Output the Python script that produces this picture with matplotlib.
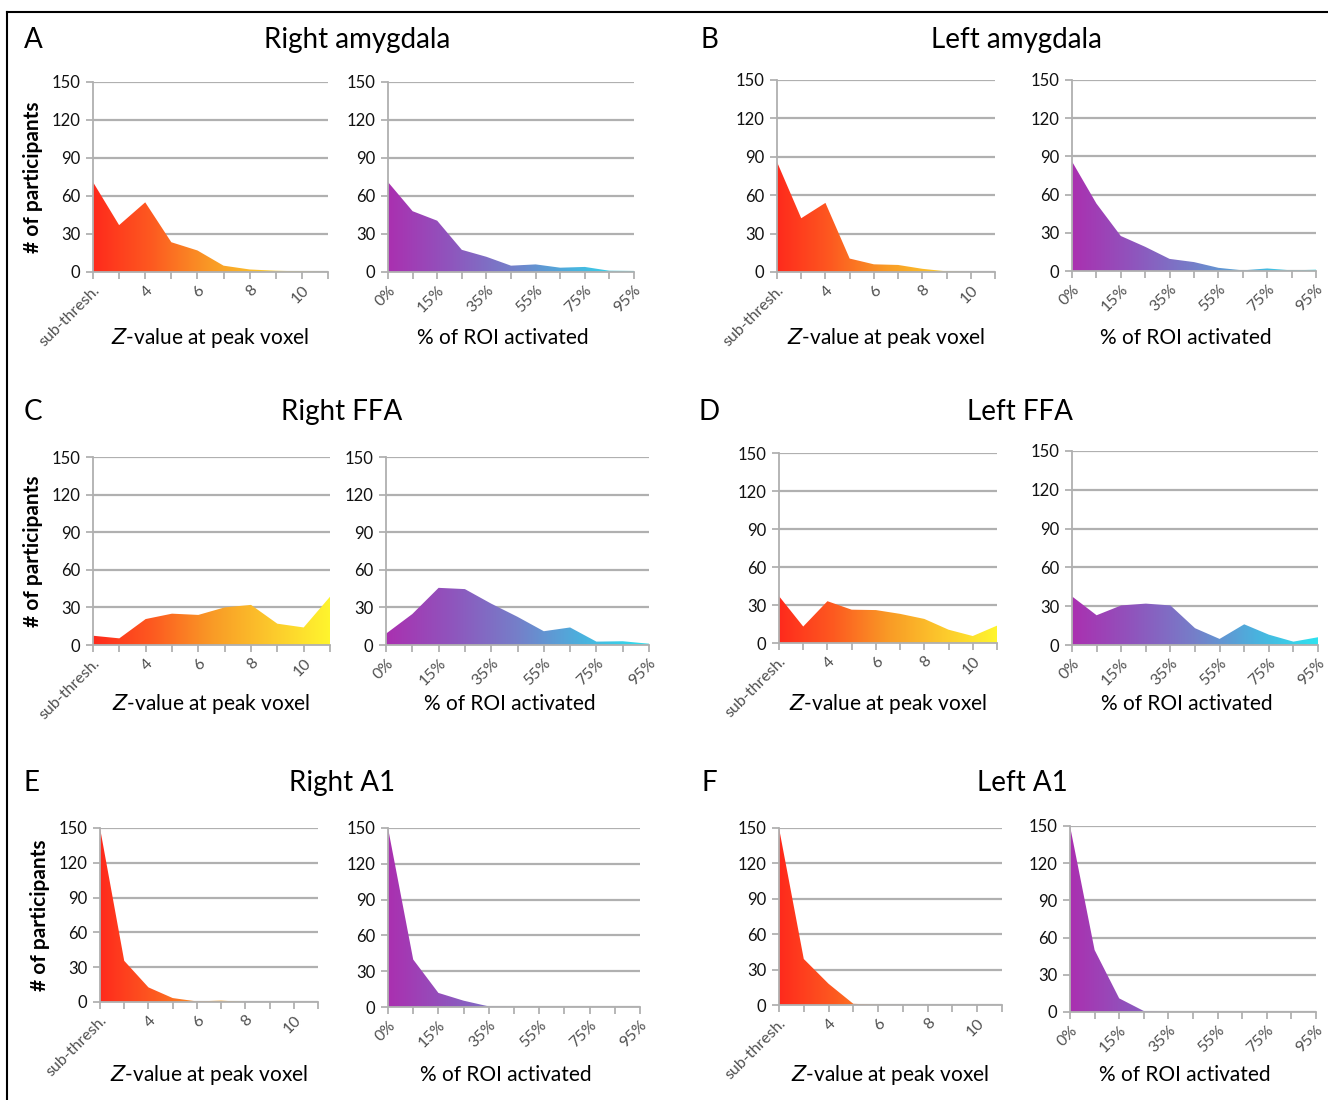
import matplotlib
matplotlib.use("Agg")
import matplotlib.pyplot as plt
from matplotlib.colors import LinearSegmentedColormap
from matplotlib.lines import Line2D
import numpy as np

plt.rcParams["font.family"] = ["Lato", "DejaVu Sans"]

# x categories
z_labels = ["sub-thresh.", "", "4", "", "6", "", "8", "", "10", ""]
pct_labels = ["0%", "", "15%", "", "35%", "", "55%", "", "75%", "", "95%"]

# participants per category
right_amygdala_z = [71, 37, 55, 23.5, 17, 5, 2, 1, 0.5, 0]
right_amygdala_pct = [71, 48, 40.5, 17.5, 12, 5, 6, 3.4, 4, 1, 0.8]
left_amygdala_z = [86, 42, 54, 10.5, 6, 5.5, 2.5, 0.5, 0, 0]
left_amygdala_pct = [86, 53, 27.5, 19, 9.5, 7, 2.5, 0.5, 2, 0.5, 1]
right_ffa_z = [7.4, 5.3, 20.7, 25, 24, 30, 32, 17, 14, 38.5]
right_ffa_pct = [9, 24.7, 45.6, 44.6, 33, 22.5, 11, 14, 2.7, 3, 1]
left_ffa_z = [37, 13, 33, 26.3, 26, 23, 19, 10.5, 5.5, 13.7]
left_ffa_pct = [37.6, 23, 30.6, 32, 30.6, 13, 4.7, 16, 8, 2.6, 6]
right_a1_z = [150, 35.5, 12.6, 3.4, 0.5, 1.2, 0, 0, 0, 0]
right_a1_pct = [150, 39.8, 11.8, 5.3, 0.5, 0, 0, 0, 0, 0, 0]
left_a1_z = [150, 39, 18, 1, 0.2, 0, 0, 0, 0, 0]
left_a1_pct = [150, 50, 11, 0.8, 0, 0, 0, 0, 0, 0, 0]

panels = [
    ("A", "Right amygdala", right_amygdala_z, right_amygdala_pct),
    ("B", "Left amygdala", left_amygdala_z, left_amygdala_pct),
    ("C", "Right FFA", right_ffa_z, right_ffa_pct),
    ("D", "Left FFA", left_ffa_z, left_ffa_pct),
    ("E", "Right A1", right_a1_z, right_a1_pct),
    ("F", "Left A1", left_a1_z, left_a1_pct),
]

# axes boxes in pixels: (left, top, right, bottom) for z plot and pct plot
boxes = [
    ((93, 82, 328, 272), (388, 82, 634, 272)),
    ((777, 80, 995, 272), (1072, 80, 1316, 271)),
    ((93, 457, 330, 645), (386, 457, 649, 645)),
    ((779, 453, 997, 643), (1072, 451, 1318, 645)),
    ((100, 828, 318, 1002), (388, 828, 640, 1007)),
    ((779, 828, 1002, 1005), (1070, 826, 1316, 1012)),
]
# header (letter x, title x, y) and x-label y, in pixels
headers = [(33, 357, 40), (709, 1016, 40), (33, 342, 412),
           (709, 1020, 412), (32, 342, 783), (709, 1022, 783)]
xlabel_y = [338, 338, 704, 704, 1075, 1075]

z_cmap = LinearSegmentedColormap.from_list(
    "z", ["#ff2a1c", "#fd5a20", "#f99a26", "#fcc82c", "#fff52e"])
pct_cmap = LinearSegmentedColormap.from_list(
    "pct", ["#aa30b0", "#8f55bd", "#757fc9", "#4ab2de", "#2ee2ef"])

W, H = 1328, 1100
fig = plt.figure(figsize=(W / 100, H / 100), dpi=100)


def px_axes(box):
    l, t, r, b = box
    return fig.add_axes([l / W, 1 - b / H, (r - l) / W, (b - t) / H])


def area_plot(ax, values, labels, cmap):
    x = np.arange(len(values))
    poly = ax.fill_between(x, values, 0, color="none", lw=0)
    grad = np.linspace(0, 1, 256).reshape(1, -1)
    im = ax.imshow(grad, cmap=cmap, extent=[0, len(values) - 1, 0, 150],
                   aspect="auto", origin="lower", zorder=2)
    im.set_clip_path(poly.get_paths()[0], transform=ax.transData)
    ax.set_xlim(0, len(values) - 1)
    ax.set_ylim(0, 150)
    ax.set_yticks([0, 30, 60, 90, 120, 150])
    ax.set_xticks(x)
    ax.set_xticklabels(labels, rotation=45, ha="right", rotation_mode="anchor",
                       fontsize=11.5)
    ax.tick_params(axis="y", labelsize=12, colors="#aaaaaa", labelcolor="#111111",
                   length=5, width=1.2, pad=4)
    ax.tick_params(axis="x", colors="#aaaaaa", labelcolor="#505050",
                   length=5, width=1.2, pad=3)
    ax.grid(axis="y", color="#b0b0b0", lw=1.6)
    ax.set_axisbelow(True)
    for s in ["top", "right"]:
        ax.spines[s].set_visible(False)
    for s in ["left", "bottom"]:
        ax.spines[s].set_color("#b0b0b0")
        ax.spines[s].set_linewidth(1.3)


for i, (letter, title, z_vals, pct_vals) in enumerate(panels):
    zbox, pbox = boxes[i]
    ax1 = px_axes(zbox)
    ax2 = px_axes(pbox)
    area_plot(ax1, z_vals, z_labels, z_cmap)
    area_plot(ax2, pct_vals, pct_labels, pct_cmap)
    if i % 2 == 0:
        ax1.set_ylabel("# of participants", fontsize=15, fontweight="bold", labelpad=6)

    ly = 1 - xlabel_y[i] / H
    fig.text((zbox[0] + zbox[2]) / 2 / W, ly, "$\\it{Z}$-value at peak voxel",
             fontsize=15, ha="center", va="center")
    fig.text((pbox[0] + pbox[2]) / 2 / W - 8 / W, ly, "% of ROI activated",
             fontsize=15, ha="center", va="center")

    lx, tx, ty = headers[i]
    fig.text(lx / W, 1 - ty / H, letter, fontsize=20, ha="center", va="center")
    fig.text(tx / W, 1 - ty / H, title, fontsize=20, ha="center", va="center")

# frame lines at top and left
fig.add_artist(Line2D([7 / W, 1], [1 - 12 / H, 1 - 12 / H], color="black", lw=1.5))
fig.add_artist(Line2D([7 / W, 7 / W], [0, 1 - 12 / H], color="black", lw=1.5))

fig.savefig("out.png", dpi=100)
